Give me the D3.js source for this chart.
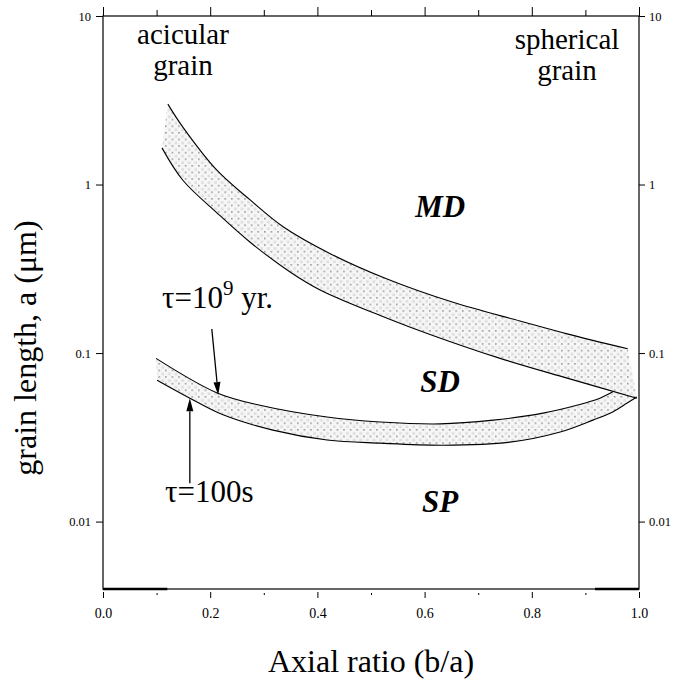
<!DOCTYPE html>
<html>
<head>
<meta charset="utf-8">
<script src="https://cdn.jsdelivr.net/npm/d3@7"></script>
<style>
  body { margin: 0; background: #fff; }
</style>
</head>
<body>
<div id="chart"></div>
<script>
// chart size
let width = 676;
let height = 683;
let margin = {top: 16, right: 37, bottom: 94, left: 103};
let serif = "'Liberation Serif', 'Times New Roman', Tinos, 'DejaVu Serif', serif";

// ticks
let xTicks = [0, 0.2, 0.4, 0.6, 0.8, 1.0];
let xMinor = [0.1, 0.3, 0.5, 0.7, 0.9];
let xTickLabels = ["0.0", "0.2", "0.4", "0.6", "0.8", "1.0"];
let yTicks = [0.01, 0.1, 1, 10];
let yTickLabels = ["0.01", "0.1", "1", "10"];

// MD / SD boundary band (tau = 10^9 yr upper, tau = 100 s lower)
let mdUpperX = [0.121, 0.149, 0.212, 0.274, 0.336, 0.424, 0.530, 0.653, 0.778, 0.866, 0.979];
let mdUpperY = [3.0, 2.19, 1.22, 0.813, 0.562, 0.389, 0.275, 0.200, 0.155, 0.130, 0.106];
let mdLowerX = [0.110, 0.149, 0.213, 0.274, 0.349, 0.405, 0.530, 0.610, 0.741, 0.866, 0.996];
let mdLowerY = [1.65, 1.06, 0.677, 0.456, 0.303, 0.237, 0.161, 0.129, 0.093, 0.071, 0.054];

// SP / SD boundary band
let spUpperX = [0.099, 0.213, 0.293, 0.418, 0.517, 0.629, 0.728, 0.821, 0.884, 0.927, 0.951];
let spUpperY = [0.093, 0.058, 0.049, 0.0417, 0.039, 0.038, 0.040, 0.044, 0.049, 0.054, 0.059];
let spLowerX = [0.101, 0.162, 0.224, 0.317, 0.418, 0.517, 0.634, 0.759, 0.853, 0.914, 0.951, 0.978, 0.996];
let spLowerY = [0.069, 0.054, 0.043, 0.0349, 0.0305, 0.0292, 0.0284, 0.0296, 0.034, 0.040, 0.0447, 0.0505, 0.0548];

// thick pieces on the bottom axis
let baseSegments = [[0, 0.12], [0.918, 1.0]];

let svg = d3.select("#chart")
            .append("svg")
            .attr("width", width)
            .attr("height", height)
            .attr("font-family", serif);

let x = d3.scaleLinear()
          .domain([0, 1])
          .range([margin.left, width - margin.right]);

let y = d3.scaleLog()
          .domain([Math.pow(10, -2.4), 10])
          .range([height - margin.bottom, margin.top]);

let x0 = x.range()[0], x1 = x.range()[1];
let y0 = y.range()[0], y1 = y.range()[1];

// stipple fill
let defs = svg.append("defs");
let pat = defs.append("pattern")
              .attr("id", "stipple")
              .attr("patternUnits", "userSpaceOnUse")
              .attr("width", 6.6)
              .attr("height", 6.6);
pat.append("rect").attr("width", 6.6).attr("height", 6.6).attr("fill", "#f6f6f6");
pat.append("rect").attr("x", 0).attr("y", 0).attr("width", 1.6).attr("height", 1.6).attr("fill", "#9a9a9a");
pat.append("rect").attr("x", 3.1).attr("y", 3.1).attr("width", 2.6).attr("height", 2.6).attr("fill", "#dedede");

function pts(xs, ys) {
  return xs.map(function(d, i) { return [x(d), y(ys[i])]; });
}

let line = d3.line().curve(d3.curveCatmullRom.alpha(0.5));

function band(upper, lower) {
  let rev = lower.slice().reverse();
  return line(upper) + "L" + line(rev).slice(1) + "Z";
}

let mdU = pts(mdUpperX, mdUpperY), mdL = pts(mdLowerX, mdLowerY);
let spU = pts(spUpperX, spUpperY), spL = pts(spLowerX, spLowerY);

svg.append("path").attr("d", band(mdU, mdL)).attr("fill", "url(#stipple)");
svg.append("path").attr("d", band(spU, spL)).attr("fill", "url(#stipple)");

[mdU, mdL, spU, spL].forEach(function(p) {
  svg.append("path")
     .attr("d", line(p))
     .style("fill", "none")
     .style("stroke", "#000")
     .style("stroke-width", 1.1);
});

// frame
svg.append("rect")
   .attr("x", x0).attr("y", y1)
   .attr("width", x1 - x0).attr("height", y0 - y1)
   .style("fill", "none").style("stroke", "#000").style("stroke-width", 1.2);

baseSegments.forEach(function(s) {
  svg.append("line")
     .attr("x1", x(s[0])).attr("x2", x(s[1]))
     .attr("y1", y0).attr("y2", y0)
     .style("stroke", "#000").style("stroke-width", 2.6);
});

// top axis ticks
svg.append("g")
   .attr("transform", "translate(0," + y1 + ")")
   .call(d3.axisTop(x).tickValues(xTicks).tickSize(9).tickFormat(""))
   .call(g => g.select(".domain").remove());
svg.append("g")
   .attr("transform", "translate(0," + y1 + ")")
   .call(d3.axisTop(x).tickValues(xMinor).tickSize(6).tickFormat(""))
   .call(g => g.select(".domain").remove());

// bottom axis
svg.append("g")
   .attr("transform", "translate(0," + (y0 + 3) + ")")
   .call(d3.axisBottom(x).tickValues(xTicks).tickSize(6).tickPadding(10)
           .tickFormat(function(d, i) { return xTickLabels[i]; }))
   .attr("font-family", serif)
   .attr("font-size", 14)
   .call(g => g.select(".domain").remove());
svg.append("g")
   .attr("transform", "translate(0," + (y0 + 4) + ")")
   .call(d3.axisBottom(x).tickValues(xMinor).tickSize(2).tickFormat(""))
   .call(g => g.select(".domain").remove());

// left axis
svg.append("g")
   .attr("transform", "translate(" + x0 + ",0)")
   .call(d3.axisLeft(y).tickValues(yTicks).tickSize(7).tickPadding(5)
           .tickFormat(function(d, i) { return yTickLabels[i]; }))
   .attr("font-family", serif)
   .attr("font-size", 12.5)
   .call(g => g.select(".domain").remove());

// right axis
svg.append("g")
   .attr("transform", "translate(" + x1 + ",0)")
   .call(d3.axisRight(y).tickValues(yTicks).tickSize(6).tickPadding(4)
           .tickFormat(function(d, i) { return yTickLabels[i]; }))
   .attr("font-family", serif)
   .attr("font-size", 12.5)
   .call(g => g.select(".domain").remove());

// axis titles
svg.append("text")
   .attr("x", (x0 + x1) / 2)
   .attr("y", 672)
   .attr("text-anchor", "middle")
   .style("font-size", "32px")
   .text("Axial ratio (b/a)");

svg.append("text")
   .attr("transform", "translate(36,348) rotate(-90)")
   .attr("text-anchor", "middle")
   .style("font-size", "32px")
   .text("grain length, a (\u03bcm)");

// corner notes, two lines in one text
function twoLines(cx, yA, yB, a, b) {
  let t = svg.append("text").attr("text-anchor", "middle").style("font-size", "29px");
  t.append("tspan").attr("x", cx).attr("y", yA).text(a);
  t.append("tspan").attr("x", cx).attr("y", yB).text(b);
}
twoLines(183, 44, 75, "acicular", "grain");
twoLines(567, 49, 80, "spherical", "grain");

// region labels
[["MD", 0.64], ["SD", 0.0587], ["SP", 0.0114]].forEach(function(d) {
  svg.append("text")
     .attr("x", x(0.629))
     .attr("y", y(d[1]))
     .attr("text-anchor", "middle")
     .style("font-size", "31px")
     .style("font-weight", "bold")
     .style("font-style", "italic")
     .text(d[0]);
});

// tau labels
let t1 = svg.append("text").attr("x", 162).attr("y", 308).style("font-size", "31px");
t1.append("tspan").text("\u03c4=10");
t1.append("tspan").attr("dy", -13).style("font-size", "21px").text("9");
t1.append("tspan").attr("dy", 13).text(" yr.");

svg.append("text").attr("x", 165).attr("y", 502).style("font-size", "31px").text("\u03c4=100s");

// arrows
function arrow(xa, ya, xb, yb) {
  let p0 = [x(xa), y(ya)], p1 = [x(xb), y(yb)];
  let dx = p1[0] - p0[0], dy = p1[1] - p0[1];
  let len = Math.sqrt(dx * dx + dy * dy);
  let ux = dx / len, uy = dy / len;
  let hl = 13, hw = 3.5;
  let bx = p1[0] - ux * hl, by = p1[1] - uy * hl;
  svg.append("line")
     .attr("x1", p0[0]).attr("y1", p0[1]).attr("x2", bx).attr("y2", by)
     .style("stroke", "#000").style("stroke-width", 1.3);
  svg.append("path")
     .attr("d", "M" + p1[0] + "," + p1[1] +
                "L" + (bx - uy * hw) + "," + (by + ux * hw) +
                "L" + (bx + uy * hw) + "," + (by - ux * hw) + "Z")
     .style("fill", "#000");
}
arrow(0.203, 0.139, 0.215, 0.0564);
arrow(0.162, 0.0169, 0.162, 0.054);
</script>
</body>
</html>
